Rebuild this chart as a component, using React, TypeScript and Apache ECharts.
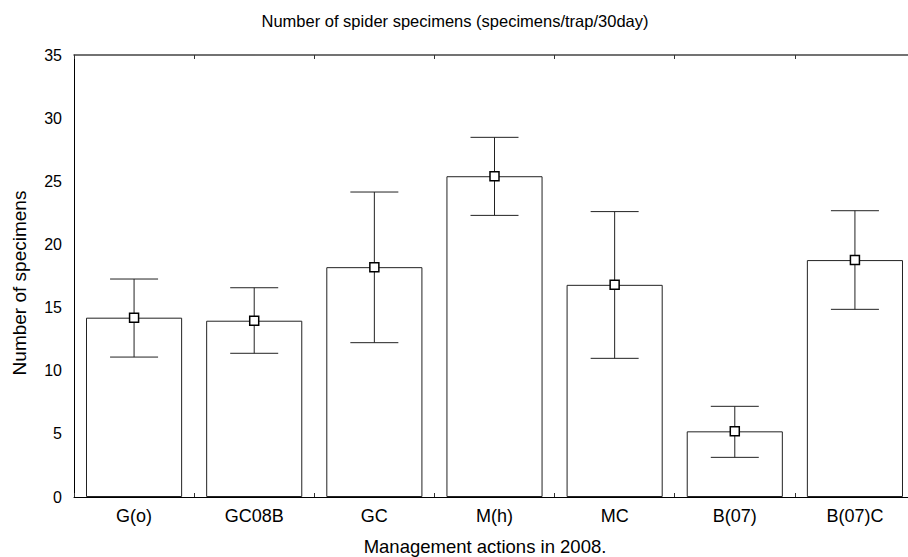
import React, { useEffect, useRef } from "react";
import * as echarts from "echarts";

const categories = ["G(o)", "GC08B", "GC", "M(h)", "MC", "B(07)", "B(07)C"];
const means = [14.2, 13.96, 18.2, 25.4, 16.8, 5.2, 18.76];
const upper = [17.26, 16.57, 24.15, 28.48, 22.6, 7.18, 22.67];
const lower = [11.08, 11.38, 12.22, 22.3, 10.98, 3.14, 14.86];
const yTicks = { min: 0, max: 35, interval: 5 };

const FONT = "'Liberation Sans', Arial, sans-serif";

export default function App() {
  const ref = useRef<HTMLDivElement>(null);
  useEffect(() => {
    if (!ref.current) return;
    const chart = echarts.init(ref.current, null, { renderer: "svg" });
    const errData = categories.map((_, i) => [i, lower[i], upper[i]]);
    chart.setOption({
      animation: false,
      backgroundColor: "#ffffff",
      textStyle: { fontFamily: FONT, color: "#000" },
      graphic: [
        {
          type: "text",
          x: 455,
          y: 21,
          style: {
            text: "Number of spider specimens (specimens/trap/30day)",
            fontFamily: FONT,
            fontSize: 16.5,
            fill: "#000",
            align: "center",
            verticalAlign: "middle",
          },
        },
        {
          type: "text",
          x: 485,
          y: 546,
          style: {
            text: "Management actions in 2008.",
            fontFamily: FONT,
            fontSize: 18.5,
            fill: "#000",
            align: "center",
            verticalAlign: "middle",
          },
        },
        {
          type: "text",
          x: 19,
          y: 283,
          rotation: Math.PI / 2,
          style: {
            text: "Number of specimens",
            fontFamily: FONT,
            fontSize: 19,
            fill: "#000",
            align: "center",
            verticalAlign: "middle",
          },
        },
      ],
      grid: { left: 74, top: 55, width: 841, height: 442, containLabel: false },
      xAxis: [
        {
          type: "category",
          data: categories,
          position: "bottom",
          boundaryGap: true,
          axisLine: { lineStyle: { color: "#000", width: 1 } },
          axisTick: { show: true, inside: true, length: 4, lineStyle: { color: "#333" } },
          axisLabel: { fontFamily: FONT, fontSize: 18, color: "#000", margin: 10 },
        },
        {
          type: "category",
          data: categories,
          position: "top",
          boundaryGap: true,
          axisLine: { lineStyle: { color: "#444", width: 1.5 } },
          axisTick: { show: true, inside: true, length: 4, lineStyle: { color: "#333" } },
          axisLabel: { show: false },
        },
      ],
      yAxis: {
        type: "value",
        min: yTicks.min,
        max: yTicks.max,
        interval: yTicks.interval,
        splitLine: { show: false },
        axisLine: { show: true, lineStyle: { color: "#000", width: 1 } },
        axisTick: { show: false },
        axisLabel: { fontFamily: FONT, fontSize: 16, color: "#000", margin: 12 },
      },
      series: [
        {
          type: "bar",
          data: means,
          barCategoryGap: "20%",
          itemStyle: { color: "#ffffff", borderColor: "#222", borderWidth: 1 },
          z: 1,
        },
        {
          type: "custom",
          data: errData,
          z: 3,
          renderItem: (params: any, api: any) => {
            const idx = api.value(0);
            const lo = api.coord([idx, api.value(1)]);
            const hi = api.coord([idx, api.value(2)]);
            const half = 24;
            const st = { stroke: "#222", lineWidth: 1 };
            return {
              type: "group",
              children: [
                { type: "line", shape: { x1: lo[0], y1: lo[1], x2: hi[0], y2: hi[1] }, style: st },
                { type: "line", shape: { x1: hi[0] - half, y1: hi[1], x2: hi[0] + half, y2: hi[1] }, style: st },
                { type: "line", shape: { x1: lo[0] - half, y1: lo[1], x2: lo[0] + half, y2: lo[1] }, style: st },
              ],
            };
          },
        },
        {
          type: "scatter",
          data: means,
          symbol: "rect",
          symbolSize: 9,
          itemStyle: { color: "#ffffff", borderColor: "#000", borderWidth: 1.5, opacity: 1 },
          z: 5,
        },
      ],
    });
    return () => chart.dispose();
  }, []);
  return (
    <div style={{ position: "absolute", left: 0, top: 0, width: 908, height: 557, overflow: "hidden" }}>
      <div ref={ref} style={{ width: 916, height: 557 }} />
    </div>
  );
}
